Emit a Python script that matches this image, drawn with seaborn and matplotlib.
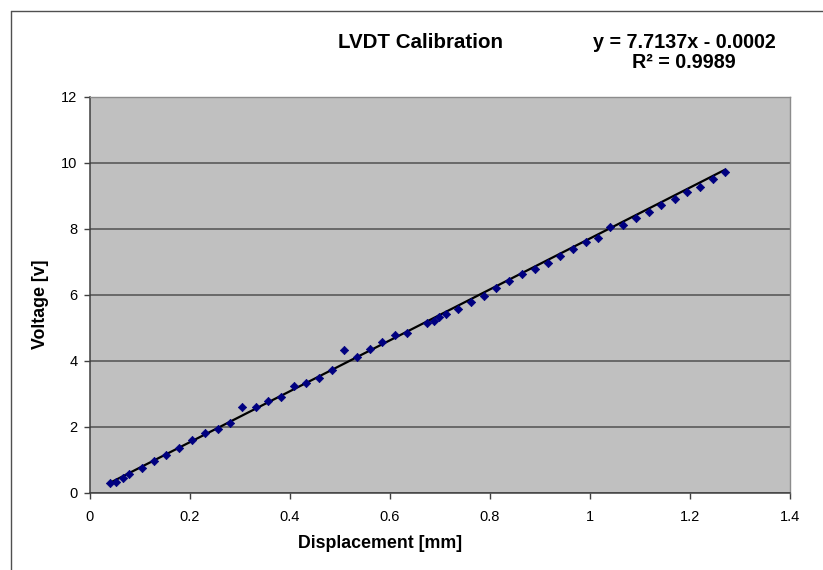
import matplotlib
matplotlib.use("Agg")
import matplotlib.pyplot as plt
from matplotlib.lines import Line2D
import seaborn as sns
import pandas as pd
import numpy as np

# ---- data ----
displacement_mm = [0.039, 0.052, 0.065, 0.077, 0.103, 0.128, 0.152, 0.178, 0.204, 0.229,
                   0.255, 0.280, 0.305, 0.331, 0.356, 0.381, 0.407, 0.432, 0.457, 0.483,
                   0.508, 0.533, 0.559, 0.584, 0.610, 0.635, 0.673, 0.687, 0.699, 0.712,
                   0.737, 0.763, 0.788, 0.813, 0.839, 0.864, 0.889, 0.915, 0.940, 0.965,
                   0.991, 1.016, 1.041, 1.067, 1.093, 1.118, 1.143, 1.169, 1.194, 1.219,
                   1.245, 1.270]
voltage_v = [0.29, 0.34, 0.44, 0.57, 0.75, 0.97, 1.16, 1.36, 1.62, 1.82,
             1.94, 2.13, 2.62, 2.60, 2.78, 2.90, 3.24, 3.34, 3.50, 3.74,
             4.33, 4.12, 4.37, 4.57, 4.78, 4.84, 5.16, 5.21, 5.32, 5.42,
             5.58, 5.80, 5.97, 6.20, 6.41, 6.64, 6.80, 6.98, 7.17, 7.38,
             7.60, 7.74, 8.06, 8.13, 8.34, 8.51, 8.73, 8.92, 9.13, 9.27,
             9.53, 9.74]
fit_slope = 7.7137
fit_intercept = -0.0002
r_squared = 0.9989
x_ticks = [0, 0.2, 0.4, 0.6, 0.8, 1, 1.2, 1.4]
x_tick_labels = ["0", "0.2", "0.4", "0.6", "0.8", "1", "1.2", "1.4"]
y_ticks = [0, 2, 4, 6, 8, 10, 12]

title_text = "LVDT Calibration"
x_label = "Displacement [mm]"
y_label = "Voltage [v]"

df = pd.DataFrame({"Displacement": displacement_mm, "Voltage": voltage_v})
x_fit = [min(displacement_mm), max(displacement_mm)]
fit_df = pd.DataFrame({"Displacement": x_fit,
                       "Voltage": [fit_slope * v + fit_intercept for v in x_fit]})

sns.set_theme(style="ticks")
plt.rcParams["font.family"] = ["Liberation Sans", "DejaVu Sans"]

fig = plt.figure(figsize=(8.23, 5.70), dpi=100)
fig.patch.set_facecolor("white")
W, H = 823, 570
ax = fig.add_axes([90 / W, 1 - 493 / H, 700 / W, 396 / H])
ax.set_facecolor("#C0C0C0")

# gridlines
ax.set_axisbelow(True)
ax.yaxis.grid(True, color="#505050", linewidth=1.1)
ax.xaxis.grid(False)

sns.lineplot(data=fit_df, x="Displacement", y="Voltage", ax=ax,
             color="black", linewidth=1.6, zorder=3)
sns.scatterplot(data=df, x="Displacement", y="Voltage", ax=ax,
                marker="D", s=18, color="#000080", edgecolor="#000080",
                linewidth=0.5, zorder=4)

ax.set_xlim(0, 1.4)
ax.set_ylim(0, 12)
ax.set_xticks(x_ticks)
ax.set_xticklabels(x_tick_labels)
ax.set_yticks(y_ticks)

ax.tick_params(axis="both", direction="out", length=4, width=1,
               color="#404040", labelsize=10.5, labelcolor="black")
ax.tick_params(axis="x", pad=8.5)
ax.tick_params(axis="y", pad=5)

for s in ["left", "bottom"]:
    ax.spines[s].set_color("#404040")
    ax.spines[s].set_linewidth(1.1)
for s in ["top", "right"]:
    ax.spines[s].set_visible(True)
    ax.spines[s].set_color("#8c8c8c")
    ax.spines[s].set_linewidth(1.0)

ax.set_xlabel(x_label, fontsize=12.8, fontweight="bold", color="black")
ax.xaxis.label.set_va("center")
ax.xaxis.set_label_coords((380 - 90) / 700, (493 - 544) / 396)
ax.set_ylabel(y_label, fontsize=12.8, fontweight="bold", color="black")
ax.yaxis.label.set_va("center")
ax.yaxis.set_label_coords((40 - 90) / 700, (493 - 304) / 396)

fig.text(421 / W, 1 - 42 / H, title_text, ha="center", va="center",
         fontsize=14.8, fontweight="bold", color="black")
fig.text(684 / W, 1 - 43 / H, f"y = {fit_slope}x - {abs(fit_intercept):.4f}",
         ha="center", va="center", fontsize=14.2, fontweight="bold", color="black")
fig.text(684 / W, 1 - 62 / H, f"R\u00b2 = {r_squared}",
         ha="center", va="center", fontsize=14.2, fontweight="bold", color="black")

# chart-area border (visible left and top edges)
fig.add_artist(Line2D([11 / W, 11 / W], [0, 1 - 11 / H], transform=fig.transFigure,
                      color="#505050", linewidth=1.0))
fig.add_artist(Line2D([11 / W, 1], [1 - 11 / H, 1 - 11 / H], transform=fig.transFigure,
                      color="#505050", linewidth=1.0))

fig.savefig("out.png", dpi=100, facecolor="white")
